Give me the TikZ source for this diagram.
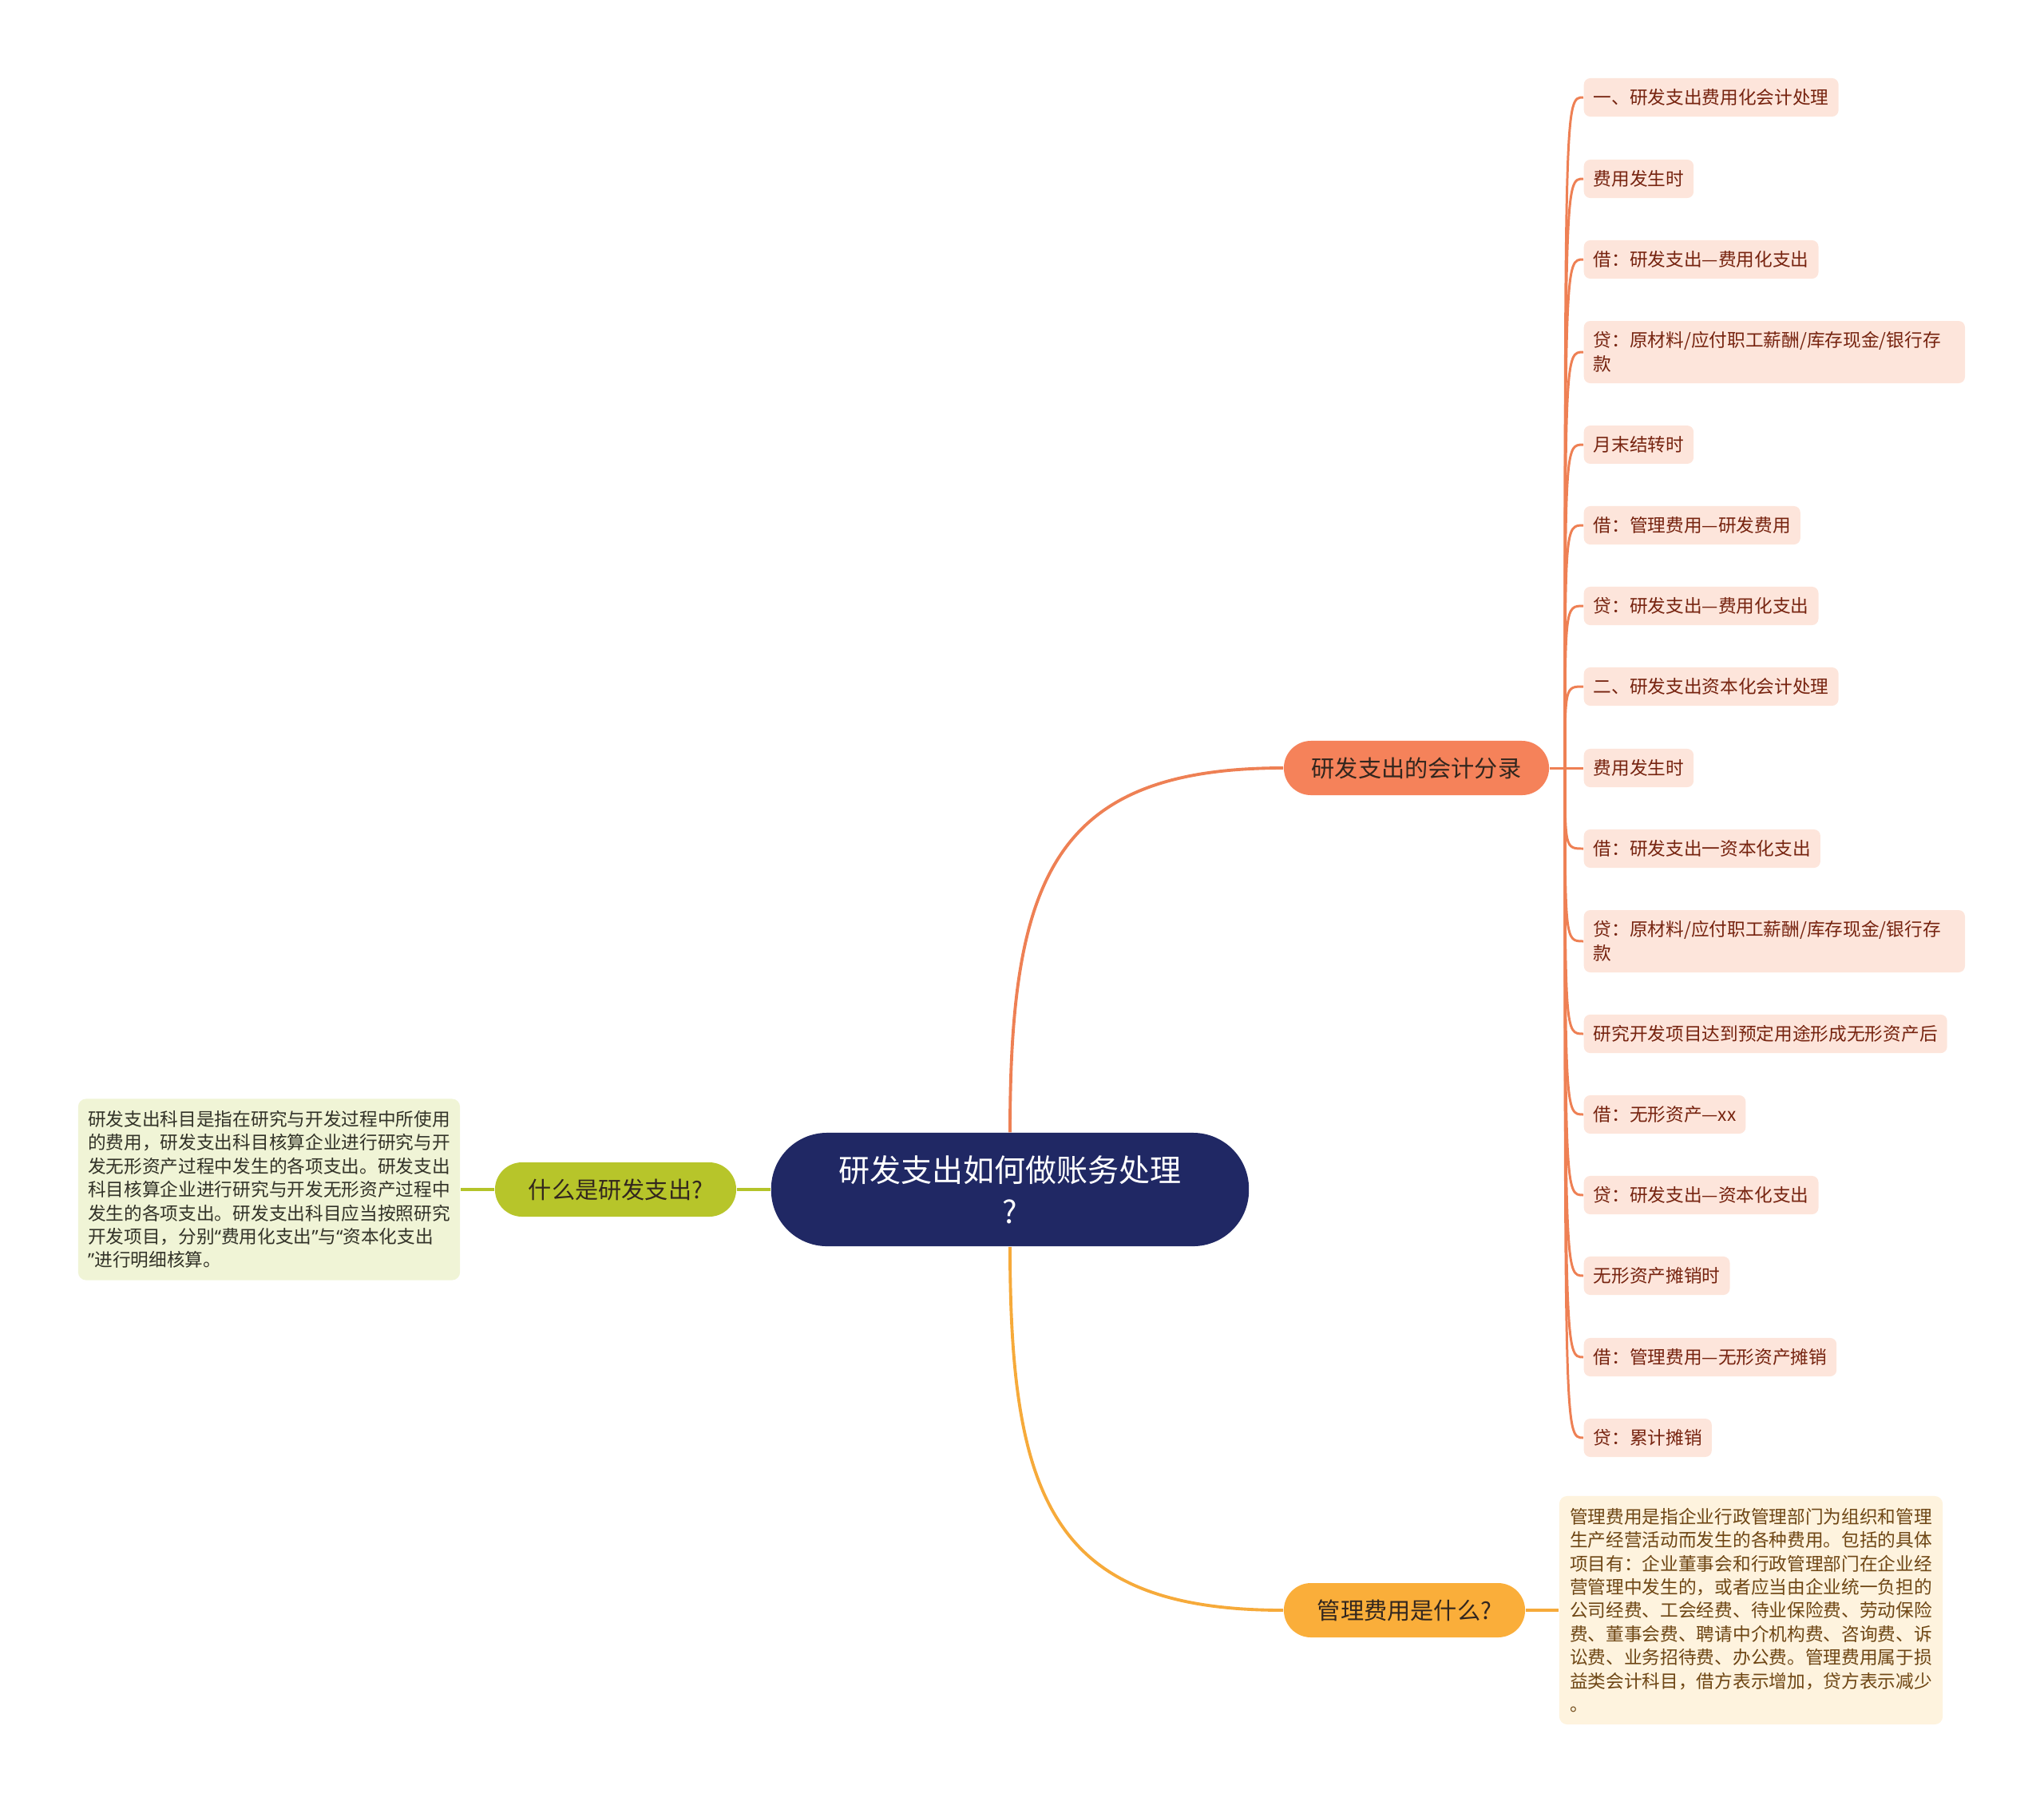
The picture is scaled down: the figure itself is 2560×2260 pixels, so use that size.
\documentclass[tikz,border=0pt]{standalone}
\usepackage{fontspec}
\setmainfont{Noto Sans CJK SC}
\newfontfamily\qfont{Noto Sans}
\newcommand{\oquote}{{\qfont“}}
\newcommand{\cquote}{{\qfont”}}
\definecolor{rootfill}{RGB}{32,40,100}
\definecolor{brafill}{RGB}{245,130,90}
\definecolor{brbfill}{RGB}{250,174,58}
\definecolor{brcfill}{RGB}{183,197,42}
\definecolor{brtext}{RGB}{50,38,30}
\definecolor{leaffill}{RGB}{253,229,219}
\definecolor{leaftext}{RGB}{118,35,15}
\definecolor{linea}{RGB}{238,128,84}
\definecolor{lineb}{RGB}{246,170,58}
\definecolor{linec}{RGB}{180,196,42}
\definecolor{descafill}{RGB}{240,244,214}
\definecolor{descatext}{RGB}{50,50,40}
\definecolor{descbfill}{RGB}{254,243,222}
\definecolor{descbtext}{RGB}{110,70,20}
\begin{document}
\begin{tikzpicture}[x=0.01cm,y=-0.01cm,font=\fontsize{6.45}{8.5}\selectfont]
\tikzstyle{br}=[rounded corners=0.34cm,minimum height=0.68cm,minimum width=3.02cm,inner sep=0pt,font=\fontsize{8.3}{10}\selectfont,text=brtext]
\tikzstyle{leaf}=[fill=leaffill,text=leaftext,rounded corners=0.08cm,anchor=west,align=left,inner xsep=0.12cm,inner ysep=0.135cm]
\tikzstyle{leaftwo}=[leaf,text width=4.53cm]
\tikzstyle{desc}=[rounded corners=0.1cm,align=left,inner sep=0pt,font=\fontsize{6.45}{8.36}\selectfont]
\tikzstyle{ca}=[draw=linea,line width=1.1pt]
\tikzstyle{cb}=[draw=lineb,line width=1.1pt]
\tikzstyle{cc}=[draw=linec,line width=1.1pt]
\tikzstyle{cleaf}=[draw=linea,line width=0.85pt]
\useasboundingbox (0,0) rectangle (2560,2260);
% root and the three main topics
\node[fill=rootfill,text=white,rounded corners=0.7cm,minimum width=5.98cm,minimum height=1.42cm,inner sep=0pt,align=center,font=\fontsize{11.1}{14.8}\selectfont] (root) at (1265,1490) {研发支出如何做账务处理\\?};
\node[br,fill=brafill,minimum width=3.32cm] (bra) at (1774,962) {研发支出的会计分录};
\node[br,fill=brbfill] (brb) at (1759,2017) {管理费用是什么?};
\node[br,fill=brcfill] (brc) at (771,1490) {什么是研发支出?};
\draw[ca] (root.north) .. controls (1265,1098) and (1321,962) .. (bra.west);
\draw[cb] (root.south) .. controls (1265,1882) and (1321,2017) .. (brb.west);
\draw[cc] (root.west) -- (brc.east);
% text boxes
\node[desc,fill=descafill,text=descatext,minimum width=4.78cm,minimum height=2.27cm] (desca) at (337,1490) {研发支出科目是指在研究与开发过程中所使用\\的费用，研发支出科目核算企业进行研究与开\\发无形资产过程中发生的各项支出。研发支出\\科目核算企业进行研究与开发无形资产过程中\\发生的各项支出。研发支出科目应当按照研究\\开发项目，分别\oquote 费用化支出\cquote 与\oquote 资本化支出\\\cquote 进行明细核算。};
\node[desc,fill=descbfill,text=descbtext,minimum width=4.8cm,minimum height=2.86cm] (descb) at (2193,2017) {管理费用是指企业行政管理部门为组织和管理\\生产经营活动而发生的各种费用。包括的具体\\项目有：企业董事会和行政管理部门在企业经\\营管理中发生的，或者应当由企业统一负担的\\公司经费、工会经费、待业保险费、劳动保险\\费、董事会费、聘请中介机构费、咨询费、诉\\讼费、业务招待费、办公费。管理费用属于损\\益类会计科目，借方表示增加，贷方表示减少\\。};
\draw[cc] (brc.west) -- (desca.east);
\draw[cb] (brb.east) -- (descb.west);
% entries
\coordinate (hub) at (1960,962);
\draw[cleaf] (bra.east) -- (hub);
\foreach \i/\y/\s/\t in {1/122/leaf/{一、研发支出费用化会计处理},2/224/leaf/{费用发生时},3/325/leaf/{借：研发支出—费用化支出},4/441/leaftwo/{贷：原材料/应付职工薪酬/库存现金/银行存\\款},5/557/leaf/{月末结转时},6/658/leaf/{借：管理费用—研发费用},7/759/leaf/{贷：研发支出—费用化支出},8/860/leaf/{二、研发支出资本化会计处理},9/962/leaf/{费用发生时},10/1063/leaf/{借：研发支出一资本化支出},11/1179/leaftwo/{贷：原材料/应付职工薪酬/库存现金/银行存\\款},12/1295/leaf/{研究开发项目达到预定用途形成无形资产后},13/1396/leaf/{借：无形资产—xx},14/1497/leaf/{贷：研发支出—资本化支出},15/1598/leaf/{无形资产摊销时},16/1700/leaf/{借：管理费用—无形资产摊销},17/1801/leaf/{贷：累计摊销}} {
  \node[\s] (l\i) at (1983,\y) {\t};
  \draw[cleaf] (hub) .. controls (1960,\y) .. (l\i.west);
}
\end{tikzpicture}
\end{document}
